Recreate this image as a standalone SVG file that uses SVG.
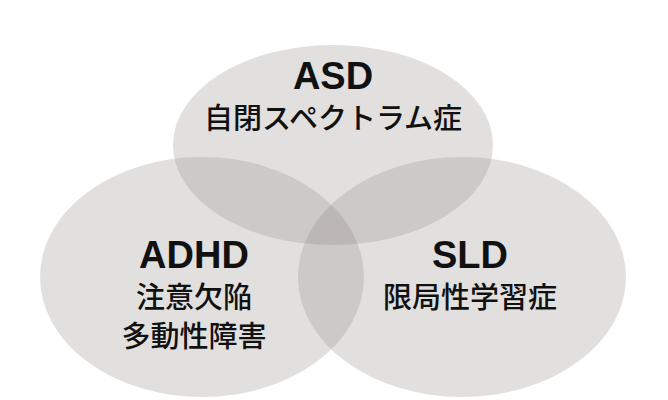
<svg xmlns="http://www.w3.org/2000/svg" width="668" height="400" viewBox="0 0 668 400">
<style>
.c{fill:#8a8380;fill-opacity:0.25;stroke:none}
.t{font-family:"Liberation Sans","Noto Sans CJK JP",sans-serif;fill:#111;text-anchor:middle}
.h{font-size:38px;font-weight:bold}
.s{font-size:29px;font-weight:500}
</style>
<rect width="668" height="400" fill="#fff"/>
<g id="asd"><ellipse class="c" cx="333" cy="145" rx="160" ry="100"/>
<text class="t h" x="333" y="89">ASD</text><text class="t s" x="333" y="129">自閉スペクトラム症</text></g>
<g id="adhd"><ellipse class="c" cx="202" cy="277" rx="162" ry="120"/>
<text class="t h" x="194" y="268">ADHD</text><text class="t s" x="194" y="308">注意欠陥</text><text class="t s" x="194" y="347">多動性障害</text></g>
<g id="sld"><ellipse class="c" cx="462" cy="277" rx="164" ry="120"/>
<text class="t h" x="470" y="268">SLD</text><text class="t s" x="470" y="308">限局性学習症</text></g>
<g id="connectors"/>
</svg>
